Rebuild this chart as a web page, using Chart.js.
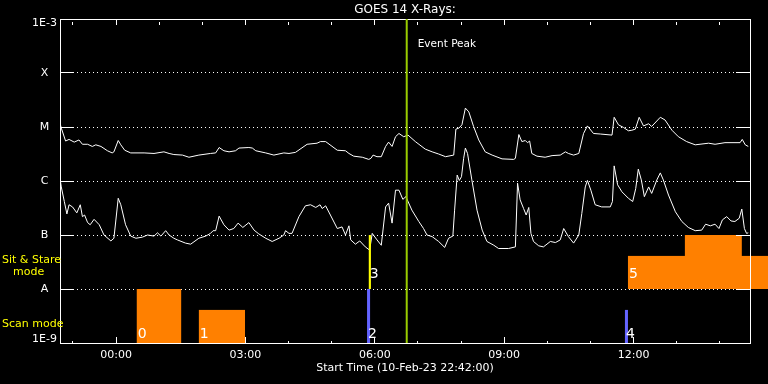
<!DOCTYPE html>
<html>
<head>
<meta charset="utf-8">
<title>GOES 14 X-Rays</title>
<script src="https://cdn.jsdelivr.net/npm/chart.js@4.4.1/dist/chart.umd.min.js"></script>
<style>
  html, body { margin: 0; padding: 0; background: #000; }
  canvas { display: block; }
</style>
</head>
<body>
<canvas id="chart" width="768" height="384"></canvas>
<script>
// time in hours from 00:00 on 11-Feb (plot starts 10-Feb 22:42)
const longHours = [-1.30,-1.27,-1.17,-1.09,-0.97,-0.86,-0.78,-0.66,-0.55,-0.47,
  -0.35,-0.20,-0.09,-0.05,0.05,0.11,0.20,0.34,0.65,0.88,
  1.11,1.23,1.34,1.54,1.69,1.92,2.19,2.31,2.39,2.50,
  2.62,2.77,2.85,3.08,3.16,3.24,3.47,3.66,3.89,4.01,
  4.16,4.43,4.66,4.74,4.86,5.13,5.32,5.40,5.51,5.71,
  5.86,5.91,5.96,6.05,6.15,6.25,6.32,6.40,6.48,6.56,
  6.67,6.77,6.94,7.17,7.33,7.48,7.64,7.83,7.88,7.95,
  8.02,8.10,8.18,8.29,8.41,8.56,8.72,8.95,9.22,9.26,
  9.34,9.41,9.49,9.54,9.59,9.64,9.76,9.95,10.11,10.30,
  10.42,10.49,10.61,10.73,10.84,10.93,11.07,11.23,11.50,11.55,
  11.65,11.77,11.88,11.96,12.04,12.13,12.23,12.35,12.42,12.62,
  12.73,12.89,13.04,13.23,13.43,13.74,13.89,14.12,14.47,14.52,
  14.59,14.66];
// log10 flux (W/m^2), long channel
const longLog = [-4.93,-5.02,-5.26,-5.23,-5.28,-5.24,-5.32,-5.32,-5.36,-5.33,
  -5.36,-5.44,-5.48,-5.46,-5.25,-5.33,-5.43,-5.48,-5.48,-5.49,
  -5.46,-5.49,-5.51,-5.52,-5.56,-5.52,-5.49,-5.48,-5.38,-5.44,
  -5.46,-5.44,-5.39,-5.38,-5.39,-5.44,-5.48,-5.52,-5.48,-5.49,
  -5.47,-5.32,-5.30,-5.27,-5.27,-5.43,-5.44,-5.49,-5.54,-5.56,
  -5.60,-5.58,-5.52,-5.55,-5.55,-5.36,-5.28,-5.36,-5.18,-5.12,
  -5.18,-5.15,-5.27,-5.41,-5.46,-5.50,-5.55,-5.52,-5.04,-5.02,
  -4.96,-4.65,-4.72,-4.99,-5.24,-5.46,-5.52,-5.59,-5.60,-5.58,
  -5.14,-5.27,-5.25,-5.29,-5.26,-5.49,-5.54,-5.56,-5.53,-5.52,
  -5.46,-5.49,-5.52,-5.49,-5.12,-4.98,-5.12,-5.13,-5.15,-4.82,
  -4.96,-5.01,-5.07,-5.06,-5.04,-4.82,-4.98,-4.94,-4.99,-4.82,
  -4.87,-5.06,-5.18,-5.27,-5.33,-5.30,-5.32,-5.29,-5.29,-5.23,
  -5.33,-5.36];

const shortHours = [-1.30,-1.27,-1.20,-1.14,-1.09,-1.01,-0.91,-0.83,-0.78,-0.73,
  -0.66,-0.60,-0.51,-0.39,-0.28,-0.12,-0.05,0.05,0.11,0.22,
  0.34,0.46,0.61,0.73,0.88,0.96,1.04,1.15,1.23,1.34,
  1.42,1.61,1.73,1.92,2.08,2.19,2.25,2.31,2.39,2.50,
  2.62,2.73,2.83,2.94,3.08,3.20,3.31,3.47,3.62,3.78,
  3.89,3.93,4.01,4.08,4.24,4.39,4.51,4.63,4.73,4.78,
  4.86,4.97,5.13,5.24,5.32,5.40,5.44,5.55,5.65,5.78,
  5.88,5.94,6.05,6.15,6.25,6.32,6.40,6.48,6.56,6.65,
  6.72,6.86,7.02,7.13,7.21,7.33,7.48,7.62,7.71,7.81,
  7.85,7.91,7.96,8.01,8.06,8.10,8.15,8.25,8.37,8.49,
  8.60,8.76,8.87,9.10,9.26,9.31,9.37,9.45,9.51,9.57,
  9.62,9.68,9.80,9.91,10.07,10.19,10.30,10.38,10.49,10.61,
  10.73,10.80,10.88,10.93,11.01,11.11,11.26,11.46,11.51,11.55,
  11.63,11.73,11.88,11.98,12.05,12.11,12.18,12.25,12.35,12.42,
  12.54,12.62,12.69,12.81,12.97,13.12,13.27,13.43,13.58,13.67,
  13.78,13.89,13.98,14.06,14.16,14.26,14.35,14.45,14.51,14.57,
  14.62,14.66];
// log10 flux (W/m^2), short channel
const shortLog = [-5.95,-6.11,-6.38,-6.61,-6.44,-6.48,-6.59,-6.44,-6.66,-6.63,
  -6.77,-6.81,-6.71,-6.81,-7.00,-7.11,-7.06,-6.32,-6.44,-6.81,
  -7.02,-7.06,-7.04,-7.00,-7.02,-6.96,-7.02,-6.92,-7.00,-7.06,
  -7.09,-7.15,-7.17,-7.06,-7.02,-6.97,-6.92,-6.92,-6.65,-6.81,
  -6.91,-6.88,-6.78,-6.86,-6.77,-6.91,-6.98,-7.06,-7.12,-7.06,
  -7.00,-6.92,-6.97,-6.97,-6.66,-6.46,-6.44,-6.49,-6.44,-6.51,
  -6.46,-6.63,-6.88,-6.85,-7.00,-6.83,-7.09,-7.17,-7.11,-7.22,
  -7.28,-6.97,-7.09,-7.19,-6.48,-6.41,-6.78,-6.17,-6.17,-6.34,
  -6.29,-6.54,-6.75,-6.88,-7.00,-7.03,-7.12,-7.23,-7.06,-7.02,
  -6.54,-5.89,-5.99,-5.92,-5.58,-5.39,-5.49,-5.98,-6.54,-6.91,
  -7.12,-7.19,-7.25,-7.25,-7.22,-6.04,-6.35,-6.51,-6.63,-6.49,
  -6.97,-7.12,-7.20,-7.22,-7.12,-7.14,-7.09,-6.88,-7.03,-7.15,
  -7.00,-6.60,-6.11,-5.99,-6.17,-6.44,-6.48,-6.48,-6.38,-5.72,
  -6.07,-6.20,-6.32,-6.38,-6.14,-5.78,-5.98,-6.29,-6.11,-6.23,
  -5.98,-5.85,-5.98,-6.26,-6.57,-6.75,-6.86,-6.92,-6.91,-6.80,
  -6.83,-6.80,-6.88,-6.72,-6.66,-6.74,-6.75,-6.69,-6.52,-6.88,
  -6.97,-6.96];

const peakHour = 6.74;

// observing modes (numbered blocks along the bottom)
const modeIds   = ['0', '1', '2', '3', '4', '5', ''];
const modeKind  = ['scan', 'scan', 'scan', 'stare', 'scan', 'stare', 'stare'];
const modeStart = [0.48, 1.92, 5.82, 5.86, 11.80, 11.87, 13.19];
const modeEnd   = [1.51, 2.99, 5.89, 5.91, 11.87, 15.12, 14.51];
const modeLow   = [1e-9, 1e-9, 1e-9, 1e-8, 1e-9, 1e-8, 1e-8];
const modeHigh  = [1e-8, 4.1e-9, 1e-8, 1e-7, 4.1e-9, 4.1e-8, 1e-7];
const modeColors = ['#ff8000', '#ff8000', '#6464ff', '#ffff00', '#6464ff', '#ff8000', '#ff8000'];
const labelLift = { scan: 5, stare: 11 };

// axes
const hourMarks = [-1, 0, 1, 2, 3, 4, 5, 6, 7, 8, 9, 10, 11, 12, 13, 14];
const tickHours = [0, 3, 6, 9, 12];
const tickLabels = ['00:00', '03:00', '06:00', '09:00', '12:00'];
const yTickValues = [1e-9, 1e-8, 1e-7, 1e-6, 1e-5, 1e-4, 1e-3];
const yTickLabels = ['1E-9', 'A', 'B', 'C', 'M', 'X', '1E-3'];

const FONT = "'DejaVu Sans', sans-serif";
Chart.defaults.font.family = FONT;
Chart.defaults.font.size = 11;
Chart.defaults.color = '#fff';

const toPoints = (hours, logs) => hours.map((h, i) => ({ x: h, y: Math.pow(10, logs[i]) }));

// inward ticks: labelled hours long, others short
const hourDash = ctx => tickHours.includes(ctx.tick.value) ? [] : [3, 20];
const setHourTicks = s => { s.ticks = hourMarks.map(v => ({ value: v })); };
const setDecadeTicks = s => { s.ticks = yTickValues.map(v => ({ value: v })); };
// fixed box sizes so the plot frame lands where the original one is
const fixWidth = w => s => { s.width = w; s.paddingTop = 0; s.paddingBottom = 0; };
const fixHeight = h => s => { s.height = h; s.paddingLeft = 0; s.paddingRight = 0; };

// end labels sit just inside the frame (blank line pushes them in)
const yLabel = (v, i) => {
  if (i === 0) return [yTickLabels[i], ''];
  if (i === yTickLabels.length - 1) return ['', yTickLabels[i]];
  return yTickLabels[i];
};
const yLabelFont = ctx => {
  const last = yTickLabels.length - 1;
  return (ctx.index === 0 || ctx.index === last) ? { size: 11, lineHeight: '8px' } : { size: 11 };
};

const overlays = {
  id: 'overlays',
  afterDatasetsDraw(chart) {
    const { ctx, scales: { x, y } } = chart;
    ctx.save();
    modeIds.forEach((id, i) => {
      const x0 = x.getPixelForValue(modeStart[i]);
      const x1 = x.getPixelForValue(modeEnd[i]);
      const yLo = y.getPixelForValue(modeLow[i]);
      const yHi = y.getPixelForValue(modeHigh[i]);
      ctx.fillStyle = modeColors[i];
      ctx.fillRect(x0, yHi, x1 - x0, yLo - yHi);
    });
    ctx.fillStyle = '#fff';
    ctx.font = '14px ' + FONT;
    ctx.textBaseline = 'alphabetic';
    modeIds.forEach((id, i) => {
      if (!id) return;
      const px = x.getPixelForValue(modeStart[i]) + 1;
      const py = y.getPixelForValue(modeLow[i]) - labelLift[modeKind[i]];
      ctx.fillText(id, px, py);
    });
    ctx.restore();
  },
  afterDraw(chart) {
    const { ctx, chartArea, scales: { x } } = chart;
    ctx.save();
    ctx.textBaseline = 'alphabetic';
    ctx.fillStyle = '#fff';
    ctx.font = '10.5px ' + FONT;
    ctx.fillText('Event Peak', x.getPixelForValue(peakHour) + 11, chartArea.top + 28);
    ctx.fillStyle = '#ffff00';
    ctx.font = '11px ' + FONT;
    ctx.fillText('Sit & Stare', 2, 263);
    ctx.fillText('mode', 13, 275);
    ctx.fillText('Scan mode', 2, 327);
    ctx.restore();
  }
};

new Chart(document.getElementById('chart'), {
  type: 'line',
  data: {
    datasets: [
      {
        label: 'Event Peak',
        data: [{ x: peakHour, y: 1e-9 }, { x: peakHour, y: 1e-3 }],
        borderColor: '#99cc00',
        borderWidth: 2,
        pointRadius: 0,
        order: 0
      },
      {
        label: '1-8 A',
        data: toPoints(longHours, longLog),
        borderColor: '#fff',
        borderWidth: 1,
        pointRadius: 0,
        tension: 0,
        order: 1
      },
      {
        label: '0.5-4 A',
        data: toPoints(shortHours, shortLog),
        borderColor: '#fff',
        borderWidth: 1,
        pointRadius: 0,
        tension: 0,
        order: 1
      }
    ]
  },
  options: {
    responsive: false,
    devicePixelRatio: 1,
    animation: false,
    layout: { padding: 0 },
    plugins: { legend: { display: false }, tooltip: { enabled: false } },
    scales: {
      x: {
        type: 'linear', position: 'bottom', min: -1.3, max: 14.7,
        afterBuildTicks: setHourTicks,
        afterFit: fixHeight(41),
        ticks: {
          padding: 12, maxRotation: 0, autoSkip: false,
          callback: v => { const i = tickHours.indexOf(v); return i < 0 ? '' : tickLabels[i]; }
        },
        grid: { drawOnChartArea: false, tickLength: -6, tickColor: '#fff', tickBorderDash: hourDash },
        border: { color: '#fff' },
        title: { display: true, text: 'Start Time (10-Feb-23 22:42:00)', padding: { top: 0, bottom: 9 } }
      },
      xTop: {
        type: 'linear', position: 'top', min: -1.3, max: 14.7,
        afterBuildTicks: setHourTicks,
        afterFit: fixHeight(19),
        ticks: { display: false },
        grid: { drawOnChartArea: false, tickLength: -6, tickColor: '#fff', tickBorderDash: hourDash },
        border: { color: '#fff' },
        title: { display: true, text: 'GOES 14 X-Rays:', font: { size: 12 }, padding: { top: 3, bottom: 0 } }
      },
      y: {
        type: 'logarithmic', position: 'left', min: 1e-9, max: 1e-3,
        afterBuildTicks: setDecadeTicks,
        afterFit: fixWidth(60),
        ticks: { crossAlign: 'center', padding: 17, font: yLabelFont, callback: yLabel },
        grid: { color: '#fff', lineWidth: 1, tickLength: -14, tickColor: '#fff' },
        border: { color: '#fff', dash: [1, 3] }
      },
      yRight: {
        type: 'logarithmic', position: 'right', min: 1e-9, max: 1e-3,
        afterBuildTicks: setDecadeTicks,
        afterFit: fixWidth(18),
        ticks: { display: false },
        grid: { drawOnChartArea: false, tickLength: -14, tickColor: '#fff', z: 1 },
        border: { color: '#fff', z: 1 }
      }
    }
  },
  plugins: [overlays]
});
</script>
</body>
</html>
